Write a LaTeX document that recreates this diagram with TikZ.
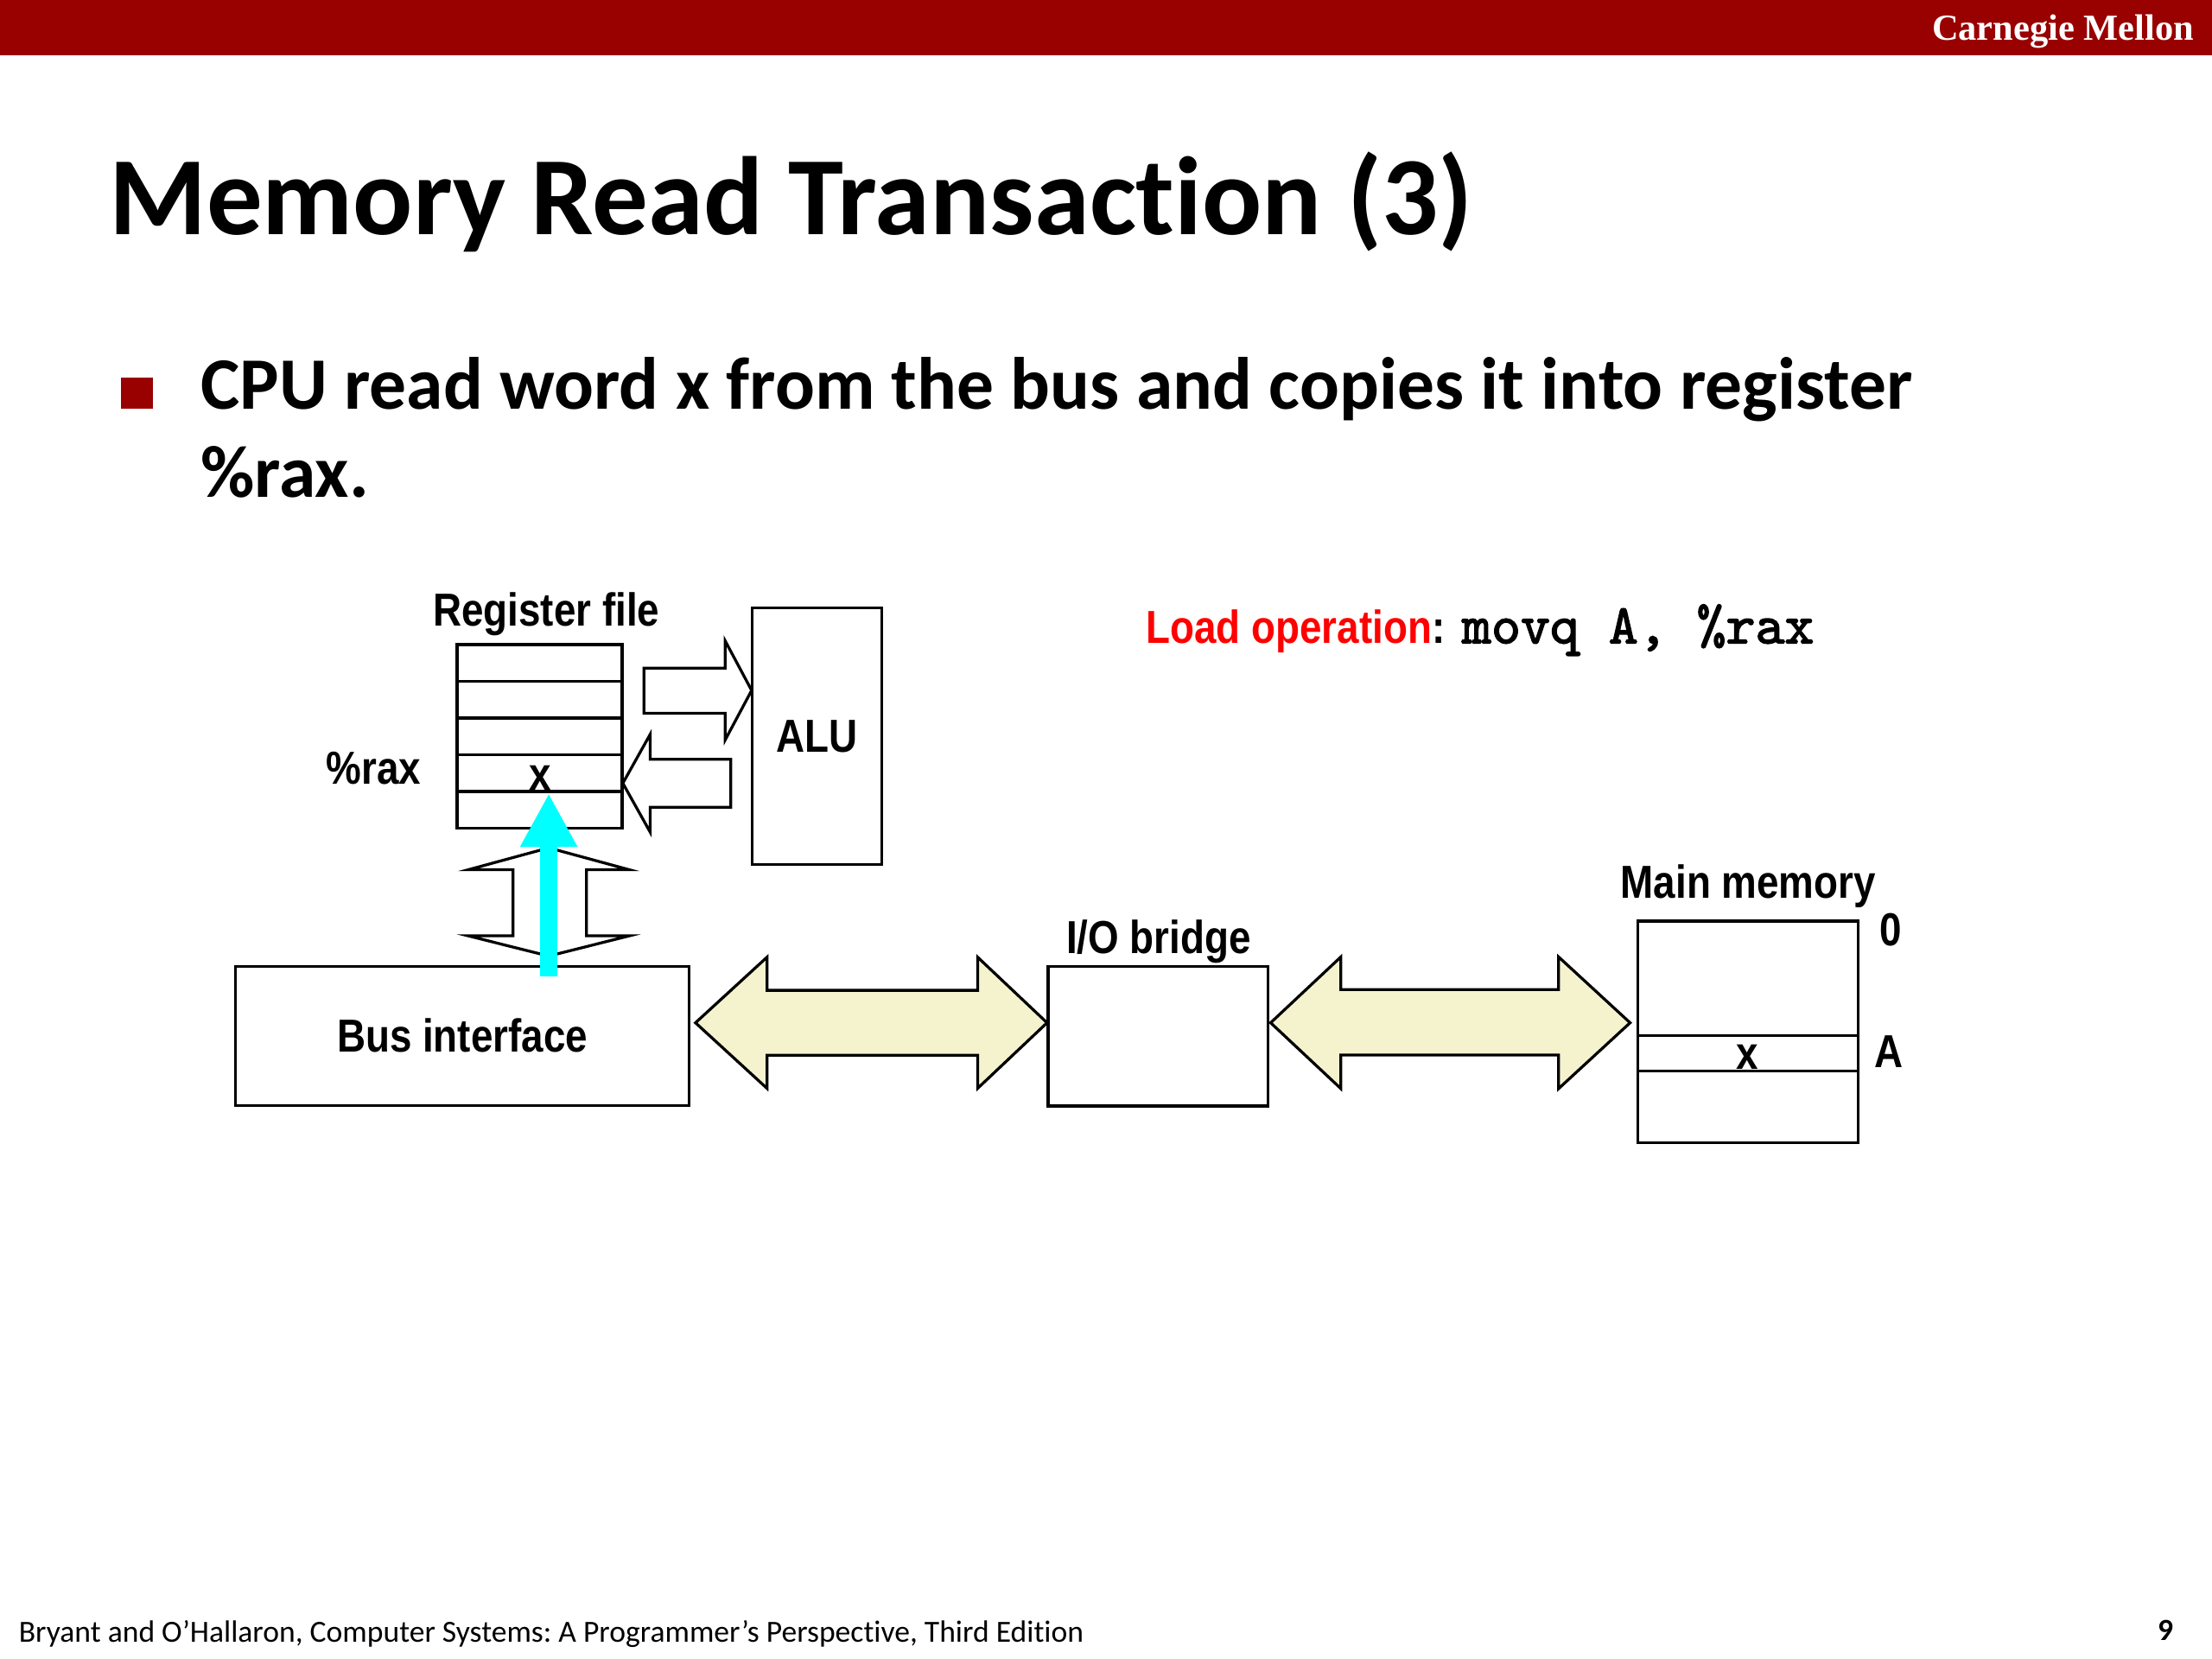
\documentclass[tikz,border=0pt]{standalone}
\usepackage{fontspec}
\setmainfont{Carlito}[Ligatures=NoCommon]
\newfontfamily\diagfam[FakeStretch=0.855]{Liberation Sans}
\newfontfamily\seriffam{Liberation Serif}
\newfontfamily\courfam[FakeBold=2.2]{lmmono10-regular.otf}
\usetikzlibrary{arrows.meta}
\definecolor{cmured}{RGB}{153,0,0}
\definecolor{busyellow}{RGB}{245,243,206}
\definecolor{cyanarrow}{RGB}{0,255,255}
\newcommand\dfont{\diagfam\bfseries\fontsize{16.4pt}{19pt}\selectfont}
\tikzset{
  lbl/.style={inner sep=0pt, anchor=base, font=\dfont},
  box/.style={draw, line width=1pt, fill=white, inner sep=0pt, font=\dfont},
  regrow/.style={draw, line width=1pt, inner sep=0pt, minimum width=58.5pt, minimum height=13pt},
  memrow/.style={draw, line width=1pt, inner sep=0pt, minimum width=78pt},
  blockarrow/.style={draw, line width=1pt, fill=white, line join=miter},
  busarrow/.style={draw, line width=1pt, fill=busyellow, line join=miter},
  datapath/.style={draw=cyanarrow, line width=6pt, -{Triangle[width=19pt,length=19pt,fill=cyanarrow]}}
}
\begin{document}
\frenchspacing
\begin{tikzpicture}[x=0.5pt,y=-0.5pt]
\useasboundingbox (0,0) rectangle (1568,1176);
\fill[white] (0,0) rectangle (1568,1176);
% header bar
\fill[cmured] (0,0) rectangle (1568,39);
\node[anchor=base east, inner sep=0pt, text=white, font=\seriffam\bfseries\fontsize{13pt}{15pt}\selectfont] (cmu) at (1555.5,28.2) {Carnegie Mellon};
% title
\node[anchor=base west, inner sep=0pt, font=\bfseries\fontsize{39.5pt}{45pt}\selectfont] (title) at (77,166.4) {Memory Read Transaction (3)};
% bullet
\node[fill=cmured, inner sep=0pt, minimum width=11.4pt, minimum height=11pt] (bullet) at (97.1,278.8) {};
\node[anchor=base west, inner sep=0pt, font=\bfseries\fontsize{26.2pt}{31pt}\selectfont] (b1) at (142,290.3) {CPU read word x from the bus and copies it into register};
\node[anchor=base west, inner sep=0pt, font=\bfseries\fontsize{26.2pt}{31pt}\selectfont] (b2) at (142,352.2) {\%rax.};
% register file
\node[regrow] (r0) at (382.5,470) {};
\node[regrow] (r1) at (382.5,496) {};
\node[regrow] (r2) at (382.5,522) {};
\node[regrow] (r3) at (382.5,548) {};
\node[regrow] (r4) at (382.5,574) {};
\node[lbl] (regx) at (383,560) {x};
\node[lbl] (regfile) at (387.3,444) {Register file};
\node[lbl] (raxlbl) at (265,556) {\%rax};
% ALU
\node[box, minimum width=46pt, minimum height=91pt] (alu) at (579,522) {ALU};
% arrows regfile <-> ALU
\path[blockarrow] (456.5,473.6) -- (514,473.6) -- (514,454.2) -- (532.8,489.4) -- (514,524.6) -- (514,505.6) -- (456.5,505.6) -- cycle;
\path[blockarrow] (518,538.3) -- (460.9,538.3) -- (460.9,520.5) -- (441.5,555.2) -- (460.9,589.9) -- (460.9,572.2) -- (518,572.2) -- cycle;
% bus interface
\node[box, minimum width=160.75pt, minimum height=49.25pt] (bus) at (327.75,734.25) {Bus interface};
% vertical double arrow
\path[blockarrow] (389,601) -- (446,616.5) -- (415.8,616.5) -- (415.8,663.4) -- (446,663.4) -- (389,677.7) -- (332,663.4) -- (363.6,663.4) -- (363.6,616.5) -- (332,616.5) -- cycle;
% I/O bridge
\node[box, minimum width=78pt, minimum height=49.5pt] (io) at (821,734.5) {};
\node[lbl] (iolbl) at (821.4,676) {I/O bridge};
% main memory
\node[memrow, minimum height=40.65pt] (m0) at (1239,693.65) {};
\node[memrow, minimum height=12.55pt] (mA) at (1239,746.85) {};
\node[memrow, minimum height=25.3pt] (m2) at (1239,784.7) {};
\node[lbl] (memx) at (1238.5,758) {x};
\node[lbl] (memlbl) at (1239.3,636.4) {Main memory};
\node[lbl] (zero) at (1340,670.6) {0};
\node[lbl] (alabel) at (1339.2,756.7) {A};
% bus arrows
\path[busarrow] (493,725) -- (543.7,678.5) -- (543.7,702) -- (693,702) -- (693,678.5) -- (742.2,725) -- (693,771.5) -- (693,748) -- (543.7,748) -- (543.7,771.5) -- cycle;
\path[busarrow] (900.7,725) -- (950.5,678.3) -- (950.5,701.5) -- (1104.8,701.5) -- (1104.8,678.3) -- (1155.5,725) -- (1104.8,771.7) -- (1104.8,747.8) -- (950.5,747.8) -- (950.5,771.7) -- cycle;
% load operation
\node[lbl, anchor=base west] (loadop) at (812,456) {\textcolor{red}{Load operation}:};
\node[anchor=base west, inner sep=0pt, font=\courfam\fontsize{19.8pt}{22pt}\selectfont] (movq) at (1036,456) {movq A, \%rax};
% cyan data path
\coordinate (cyS) at (389,692);
\coordinate (cyE) at (389,562.4);
\draw[datapath] (cyS) -- (cyE);
% footer
\node[anchor=base west, inner sep=0pt, font=\fontsize{10.9pt}{12pt}\selectfont] (foot) at (13,1164) {Bryant and O’Hallaron, Computer Systems: A Programmer’s Perspective, Third Edition};
\node[anchor=base, inner sep=0pt, font=\bfseries\fontsize{10.9pt}{12pt}\selectfont] (page) at (1535,1163) {9};
\end{tikzpicture}
\end{document}
